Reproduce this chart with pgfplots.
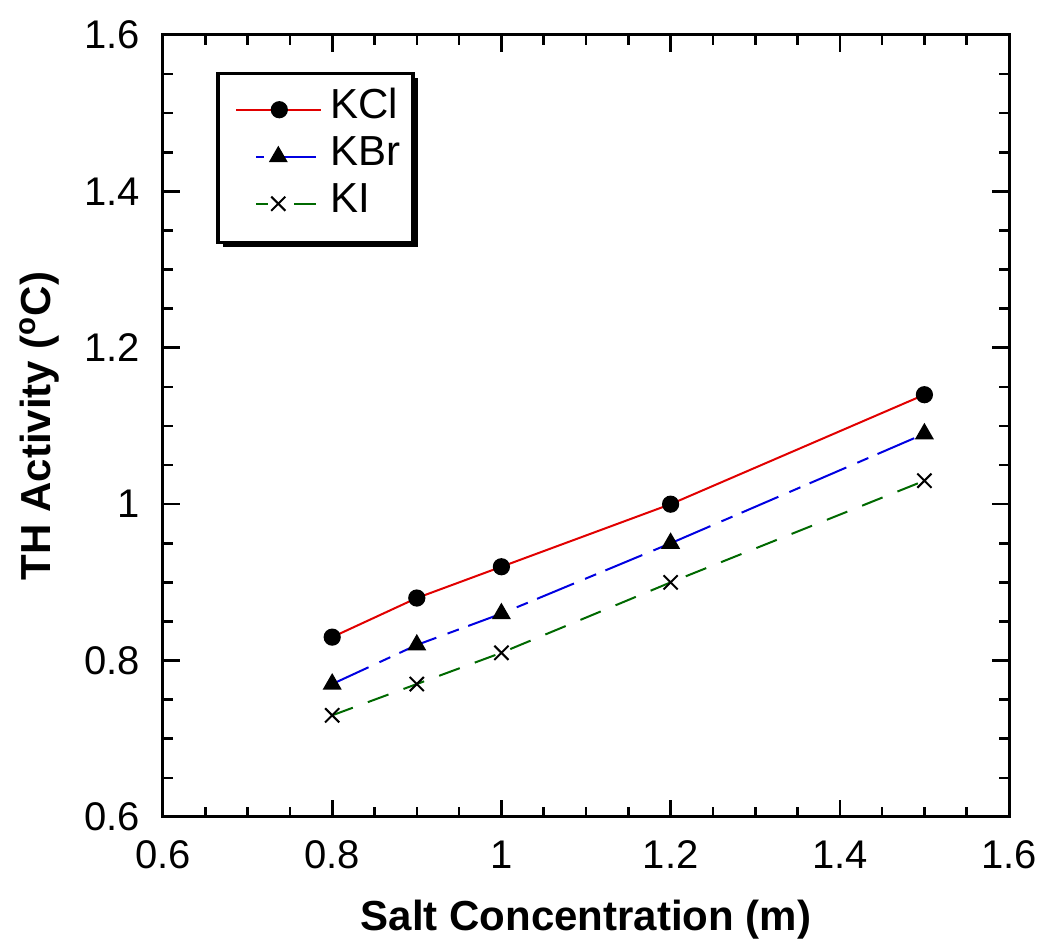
\documentclass[border=0pt]{standalone}
\usepackage{fontspec}
\setmainfont{Liberation Sans}
\usepackage{pgfplots}
\pgfplotsset{compat=1.18}
\usetikzlibrary{backgrounds}
\definecolor{kclred}{RGB}{225,0,0}
\definecolor{kbrblue}{RGB}{0,0,225}
\definecolor{kigreen}{RGB}{0,105,0}

\begin{document}
\begin{tikzpicture}
\begin{axis}[
    scale only axis,
    width=423pt, height=391pt,
    xmin=0.6, xmax=1.6, ymin=0.6, ymax=1.6,
    xtick={0.6,0.8,1,1.2,1.4,1.6},
    ytick={0.6,0.8,1,1.2,1.4,1.6},
    xticklabels={0.6,0.8,1,1.2,1.4,1.6},
    yticklabels={0.6,0.8,1,1.2,1.4,1.6},
    minor tick num=3,
    tick align=inside,
    major tick length=8.5pt, minor tick length=5pt,
    axis line style={line width=1.5pt},
    every tick/.style={line width=1.3pt, black},
    ticklabel style={font=\fontsize{20}{24}\selectfont},
    xticklabel style={yshift=-8.5pt},
    yticklabel style={xshift=-8pt},
    label style={font=\fontsize{21}{25}\selectfont\bfseries},
    xlabel={Salt Concentration (m)},
    ylabel={TH Activity (\textsuperscript{o}C)},
    xlabel style={yshift=-8.5pt},
    ylabel style={yshift=5.5pt},
    legend style={at={(0.085,0.935)}, anchor=north west,
        draw=none, fill=none,
        font=\fontsize{21}{25}\selectfont,
        inner sep=0pt, row sep=0pt, column sep=4pt,
        nodes={inner sep=0pt, text height=16pt, text depth=7.5pt}},
    legend cell align=left,
]
\addplot[kclred, line width=1pt, mark=*, mark size=3.8pt,
    mark options={solid, fill=black, draw=black},
    legend image code/.code={
        \draw[mark repeat=2,mark phase=2] plot coordinates {(0pt,0pt)(21.5pt,0pt)(42.5pt,0pt)};}]
coordinates {(0.8,0.83)(0.9,0.88)(1.0,0.92)(1.2,1.00)(1.5,1.14)};
\addplot[kbrblue, line width=1pt, dash pattern=on 20pt off 6pt on 6pt off 5pt,
    mark=triangle*, mark size=4.5pt,
    mark options={solid, fill=black, draw=black},
    legend image code/.code={
        \path (0pt,0pt) (42.5pt,0pt);
        \draw[solid] (10pt,0pt) -- (14pt,0pt);
        \draw[solid] (19pt,0pt) -- (40pt,0pt);
        \path plot[mark=triangle*, mark options={solid, fill=black, draw=black}] coordinates {(21pt,0pt)};}]
coordinates {(0.8,0.77)(0.9,0.82)(1.0,0.86)(1.2,0.95)(1.5,1.09)};
\addplot[kigreen, line width=1pt, dash pattern=on 11pt off 8pt,
    mark=x, mark size=5pt,
    mark options={solid, draw=black, line width=1pt},
    legend image code/.code={
        \path (0pt,0pt) (42.5pt,0pt);
        \draw[solid] (10pt,0pt) -- (16pt,0pt);
        \draw[solid] (29pt,0pt) -- (40pt,0pt);
        \path plot[mark=x, mark options={solid, draw=black, line width=1pt}] coordinates {(21pt,0pt)};}]
coordinates {(0.8,0.73)(0.9,0.77)(1.0,0.81)(1.2,0.90)(1.5,1.03)};
\legend{KCl, KBr, KI}
\coordinate (fsw) at (rel axis cs:0.065,0.735);
\coordinate (fne) at (rel axis cs:0.2955,0.951);
\end{axis}
\begin{scope}[on background layer]
\fill[black] ([shift={(2.5pt,-2.5pt)}]fsw) rectangle ([shift={(2.5pt,-2.5pt)}]fne);
\draw[line width=1.6pt, fill=white] (fsw) rectangle (fne);
\end{scope}
\path (current axis.south west) ++(-81.5pt,-67pt) coordinate (bl);
\path (current axis.north east) ++(20.5pt,17.5pt) coordinate (tr);
\path (bl) rectangle (tr);
\end{tikzpicture}
\end{document}
